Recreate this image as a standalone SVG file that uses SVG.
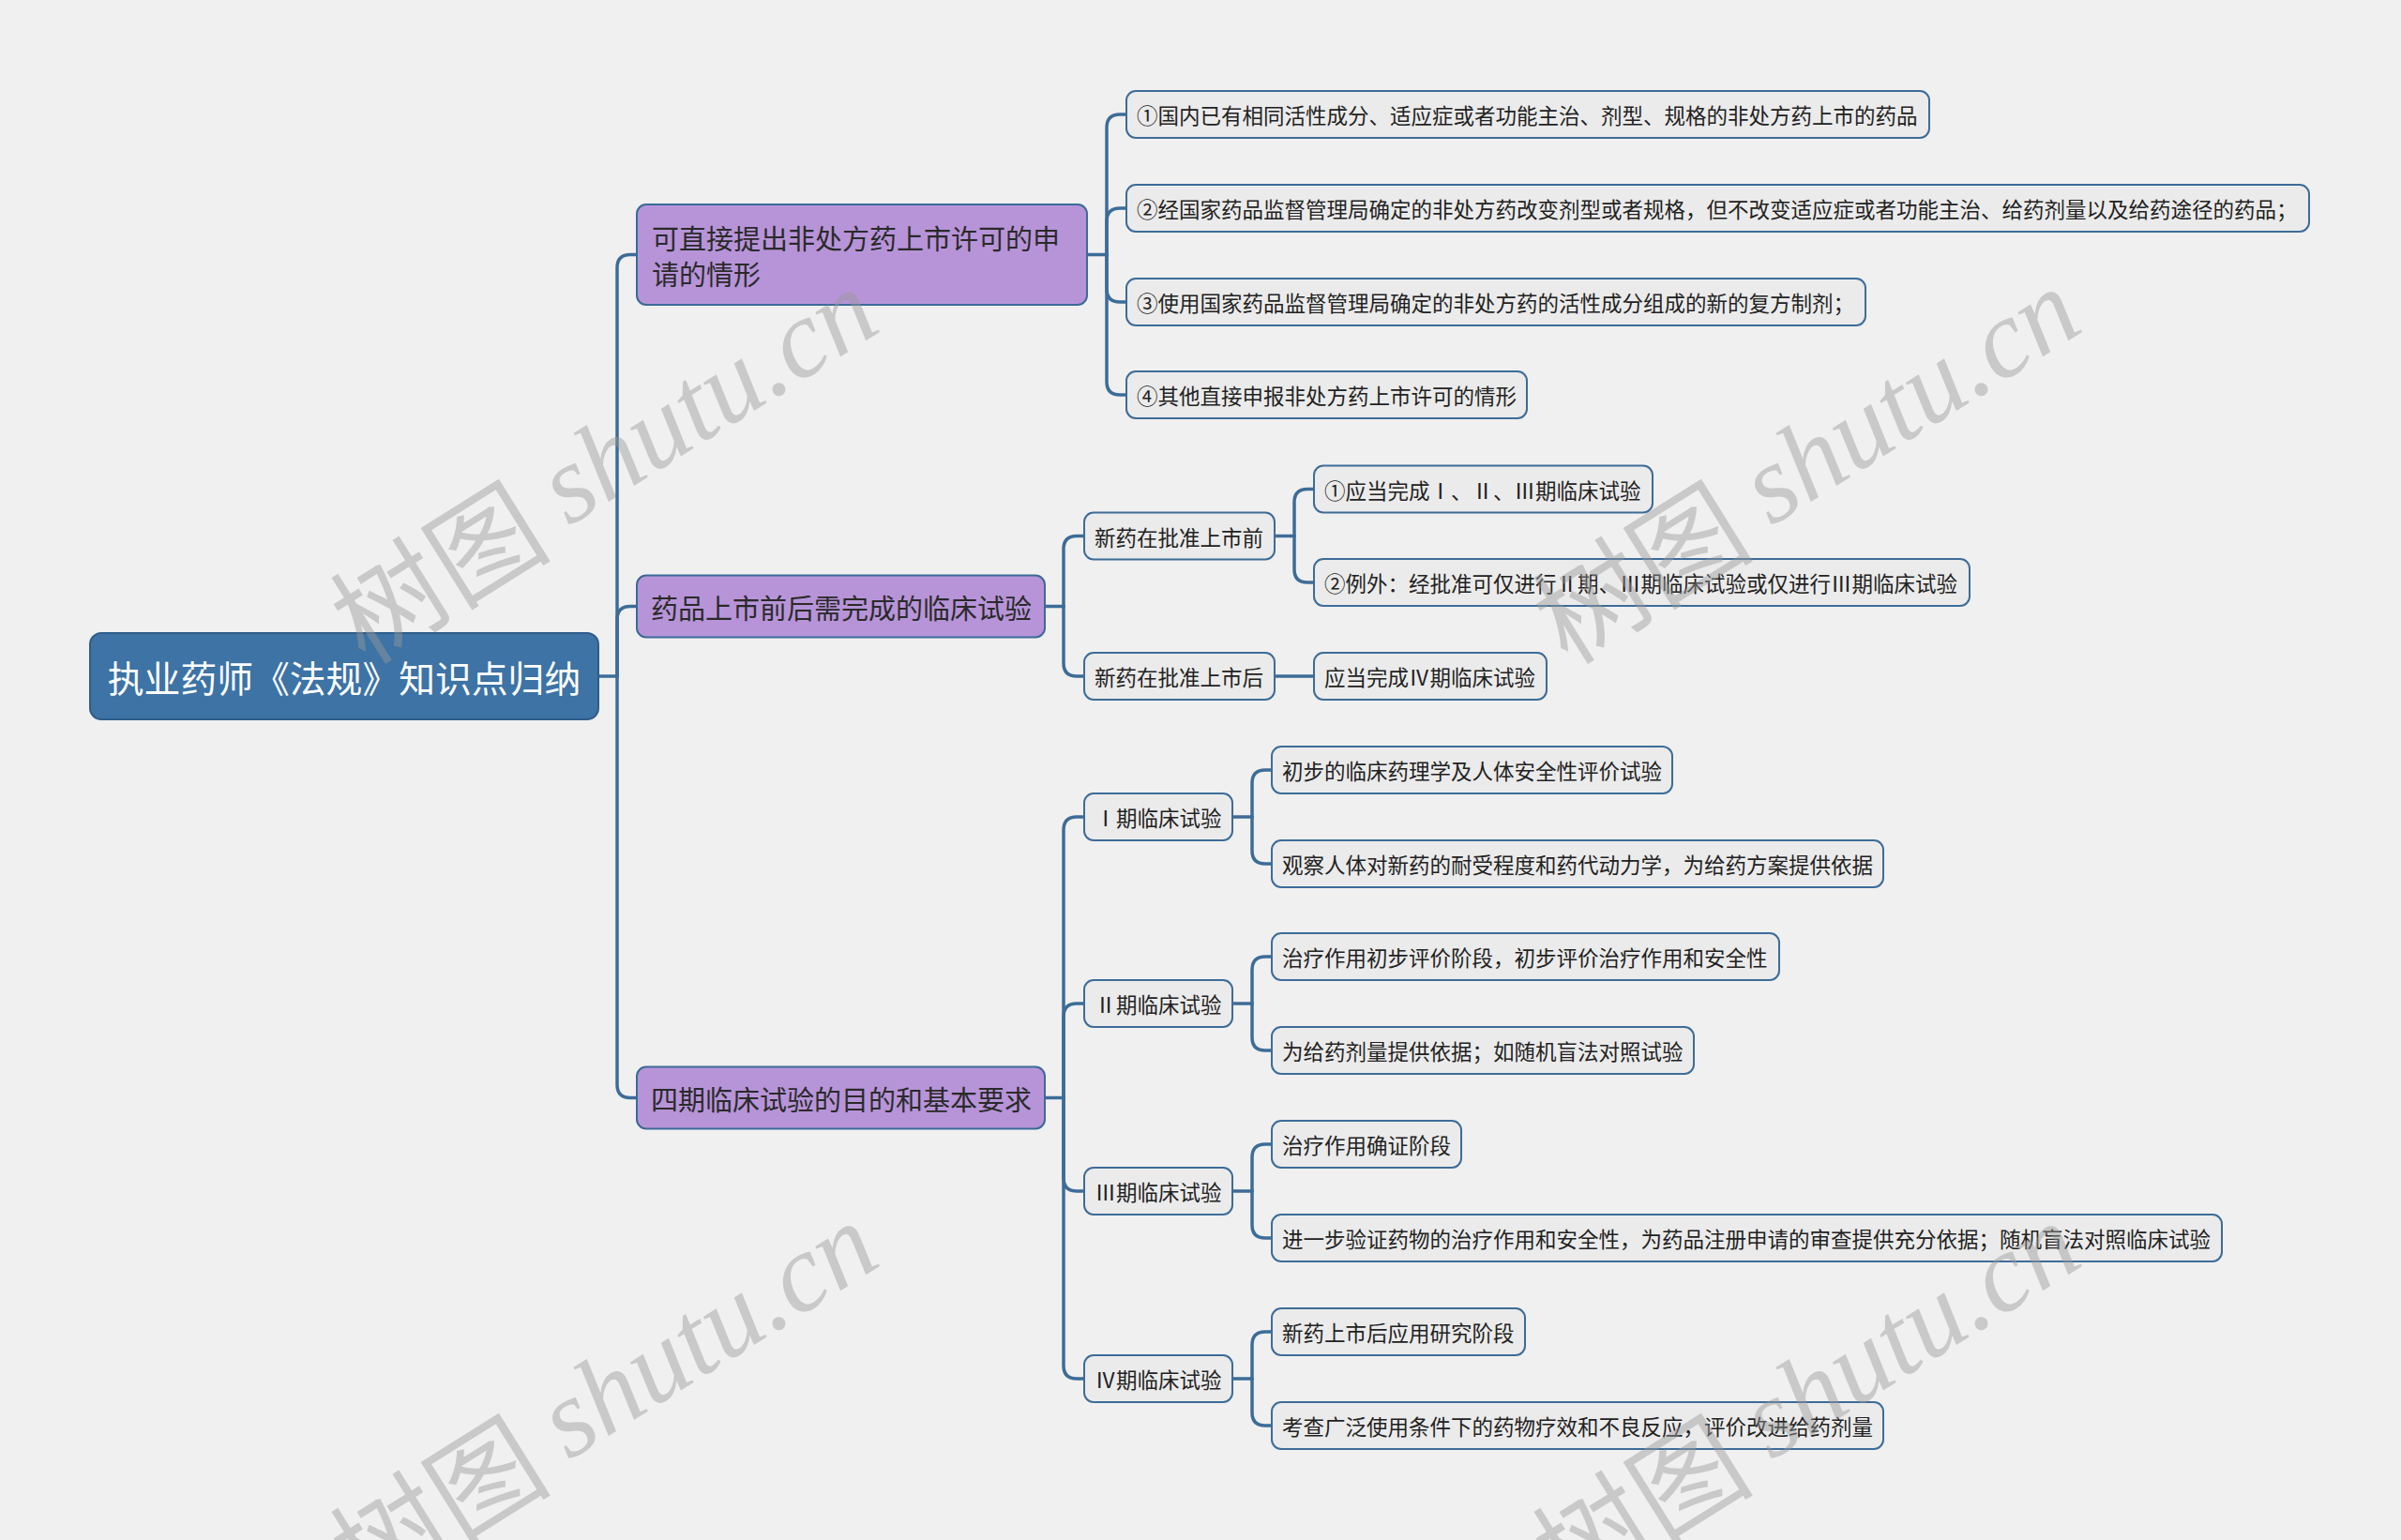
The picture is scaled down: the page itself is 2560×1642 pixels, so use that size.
<svg xmlns="http://www.w3.org/2000/svg" width="2560" height="1642" viewBox="0 0 2560 1642">
<style>
.bg{fill:#f0f0f0}
.root{fill:#3d73a5;stroke:#2e5d8a;stroke-width:2}
.l1{fill:#b794d8;stroke:#3b6a98;stroke-width:2}
.leaf{fill:#ebebeb;stroke:#3d6c98;stroke-width:2}
.conn{fill:none;stroke:#3d6c98;stroke-width:3.5;stroke-linecap:round}
text{font-family:"Noto Sans CJK SC","Noto Sans",sans-serif;dominant-baseline:central}
.tr{font-size:38.8px;fill:#ffffff}
.t1{font-size:29px;fill:#2a2a2a}
.t2{font-size:22.5px;fill:#222222}
.wm{font-size:118px;fill:#9a9a9a;fill-opacity:0.45}
.wml{font-family:"Liberation Serif",serif;font-style:italic}
</style>
<rect class="bg" x="0" y="0" width="2560" height="1642"/>
<g id="connectors">
<path class="conn" d="M638 721H658"/>
<path class="conn" d="M658 721V285.5Q658 271.5 672 271.5H679"/>
<path class="conn" d="M658 721V660.5Q658 646.5 672 646.5H679"/>
<path class="conn" d="M658 721V1156.5Q658 1170.5 672 1170.5H679"/>
<path class="conn" d="M1159 271.5H1180"/>
<path class="conn" d="M1180 271.5V136Q1180 122 1194 122H1201"/>
<path class="conn" d="M1180 271.5V236Q1180 222 1194 222H1201"/>
<path class="conn" d="M1180 271.5V308Q1180 322 1194 322H1201"/>
<path class="conn" d="M1180 271.5V407Q1180 421 1194 421H1201"/>
<path class="conn" d="M1114 646.5H1134"/>
<path class="conn" d="M1134 646.5V585.5Q1134 571.5 1148 571.5H1156"/>
<path class="conn" d="M1134 646.5V707Q1134 721 1148 721H1156"/>
<path class="conn" d="M1359 571.5H1380"/>
<path class="conn" d="M1380 571.5V535.5Q1380 521.5 1394 521.5H1401"/>
<path class="conn" d="M1380 571.5V607Q1380 621 1394 621H1401"/>
<path class="conn" d="M1359 721H1401"/>
<path class="conn" d="M1114 1170.5H1134"/>
<path class="conn" d="M1134 1170.5V885Q1134 871 1148 871H1156"/>
<path class="conn" d="M1134 1170.5V1084Q1134 1070 1148 1070H1156"/>
<path class="conn" d="M1134 1170.5V1256Q1134 1270 1148 1270H1156"/>
<path class="conn" d="M1134 1170.5V1456Q1134 1470 1148 1470H1156"/>
<path class="conn" d="M1314 871H1335"/>
<path class="conn" d="M1335 871V835Q1335 821 1349 821H1356"/>
<path class="conn" d="M1335 871V907Q1335 921 1349 921H1356"/>
<path class="conn" d="M1314 1070H1335"/>
<path class="conn" d="M1335 1070V1034Q1335 1020 1349 1020H1356"/>
<path class="conn" d="M1335 1070V1106Q1335 1120 1349 1120H1356"/>
<path class="conn" d="M1314 1270H1335"/>
<path class="conn" d="M1335 1270V1234Q1335 1220 1349 1220H1356"/>
<path class="conn" d="M1335 1270V1306Q1335 1320 1349 1320H1356"/>
<path class="conn" d="M1314 1470H1335"/>
<path class="conn" d="M1335 1470V1434Q1335 1420 1349 1420H1356"/>
<path class="conn" d="M1335 1470V1506Q1335 1520 1349 1520H1356"/>
</g>
<g id="root"><rect class="root" x="96" y="675" width="542" height="92" rx="12"/><text class="tr" x="367" y="721" text-anchor="middle">执业药师《法规》知识点归纳</text></g>
<g id="n1"><rect class="l1" x="679" y="218" width="480" height="107" rx="10"/><text class="t1" x="695" y="252.5">可直接提出非处方药上市许可的申</text><text class="t1" x="695" y="290.5">请的情形</text></g>
<g id="n2"><rect class="l1" x="679" y="613.5" width="435" height="66" rx="10"/><text class="t1" x="694" y="646.5">药品上市前后需完成的临床试验</text></g>
<g id="n3"><rect class="l1" x="679" y="1137.5" width="435" height="66" rx="10"/><text class="t1" x="694" y="1170.5">四期临床试验的目的和基本要求</text></g>
<g id="l1a"><rect class="leaf" x="1201" y="97" width="856" height="50" rx="10"/><text class="t2" x="1212" y="122">①国内已有相同活性成分、适应症或者功能主治、剂型、规格的非处方药上市的药品</text></g>
<g id="l1b"><rect class="leaf" x="1201" y="197" width="1261" height="50" rx="10"/><text class="t2" x="1212" y="222">②经国家药品监督管理局确定的非处方药改变剂型或者规格，但不改变适应症或者功能主治、给药剂量以及给药途径的药品；</text></g>
<g id="l1c"><rect class="leaf" x="1201" y="297" width="788" height="50" rx="10"/><text class="t2" x="1212" y="322">③使用国家药品监督管理局确定的非处方药的活性成分组成的新的复方制剂；</text></g>
<g id="l1d"><rect class="leaf" x="1201" y="396" width="427" height="50" rx="10"/><text class="t2" x="1212" y="421">④其他直接申报非处方药上市许可的情形</text></g>
<g id="a"><rect class="leaf" x="1156" y="546.5" width="203" height="50" rx="10"/><text class="t2" x="1167" y="571.5">新药在批准上市前</text></g>
<g id="b"><rect class="leaf" x="1156" y="696" width="203" height="50" rx="10"/><text class="t2" x="1167" y="721">新药在批准上市后</text></g>
<g id="a1"><rect class="leaf" x="1401" y="496.5" width="361" height="50" rx="10"/><text class="t2" x="1412" y="521.5">①应当完成Ⅰ、Ⅱ、Ⅲ期临床试验</text></g>
<g id="a2"><rect class="leaf" x="1401" y="596" width="699" height="50" rx="10"/><text class="t2" x="1412" y="621">②例外：经批准可仅进行Ⅱ期、Ⅲ期临床试验或仅进行Ⅲ期临床试验</text></g>
<g id="b1"><rect class="leaf" x="1401" y="696" width="248" height="50" rx="10"/><text class="t2" x="1412" y="721">应当完成Ⅳ期临床试验</text></g>
<g id="p1"><rect class="leaf" x="1156" y="846" width="158" height="50" rx="10"/><text class="t2" x="1235" y="871" text-anchor="middle">Ⅰ期临床试验</text></g>
<g id="p2"><rect class="leaf" x="1156" y="1045" width="158" height="50" rx="10"/><text class="t2" x="1235" y="1070" text-anchor="middle">Ⅱ期临床试验</text></g>
<g id="p3"><rect class="leaf" x="1156" y="1245" width="158" height="50" rx="10"/><text class="t2" x="1235" y="1270" text-anchor="middle">Ⅲ期临床试验</text></g>
<g id="p4"><rect class="leaf" x="1156" y="1445" width="158" height="50" rx="10"/><text class="t2" x="1235" y="1470" text-anchor="middle">Ⅳ期临床试验</text></g>
<g id="p1a"><rect class="leaf" x="1356" y="796" width="427" height="50" rx="10"/><text class="t2" x="1367" y="821">初步的临床药理学及人体安全性评价试验</text></g>
<g id="p1b"><rect class="leaf" x="1356" y="896" width="652" height="50" rx="10"/><text class="t2" x="1367" y="921">观察人体对新药的耐受程度和药代动力学，为给药方案提供依据</text></g>
<g id="p2a"><rect class="leaf" x="1356" y="995" width="541" height="50" rx="10"/><text class="t2" x="1367" y="1020">治疗作用初步评价阶段，初步评价治疗作用和安全性</text></g>
<g id="p2b"><rect class="leaf" x="1356" y="1095" width="450" height="50" rx="10"/><text class="t2" x="1367" y="1120">为给药剂量提供依据；如随机盲法对照试验</text></g>
<g id="p3a"><rect class="leaf" x="1356" y="1195" width="202" height="50" rx="10"/><text class="t2" x="1367" y="1220">治疗作用确证阶段</text></g>
<g id="p3b"><rect class="leaf" x="1356" y="1295" width="1013" height="50" rx="10"/><text class="t2" x="1367" y="1320">进一步验证药物的治疗作用和安全性，为药品注册申请的审查提供充分依据；随机盲法对照临床试验</text></g>
<g id="p4a"><rect class="leaf" x="1356" y="1395" width="270" height="50" rx="10"/><text class="t2" x="1367" y="1420">新药上市后应用研究阶段</text></g>
<g id="p4b"><rect class="leaf" x="1356" y="1495" width="652" height="50" rx="10"/><text class="t2" x="1367" y="1520">考查广泛使用条件下的药物疗效和不良反应，评价改进给药剂量</text></g>
<g id="watermarks">
<text class="wm" transform="translate(642,492) rotate(-32)" text-anchor="middle">树图 <tspan class="wml">shutu.cn</tspan></text>
<text class="wm" transform="translate(1924,492) rotate(-32)" text-anchor="middle">树图 <tspan class="wml">shutu.cn</tspan></text>
<text class="wm" transform="translate(642,1488) rotate(-32)" text-anchor="middle">树图 <tspan class="wml">shutu.cn</tspan></text>
<text class="wm" transform="translate(1924,1488) rotate(-32)" text-anchor="middle">树图 <tspan class="wml">shutu.cn</tspan></text>
</g>
</svg>
